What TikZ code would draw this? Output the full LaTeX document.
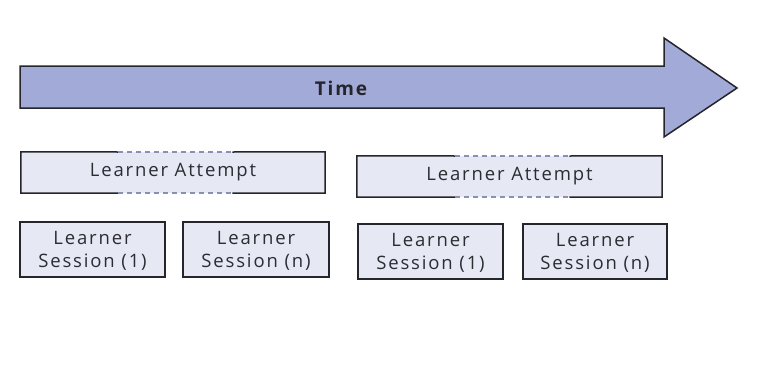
\documentclass[tikz,border=0pt]{standalone}
\usepackage{fontspec}
\setmainfont{Open Sans}[LetterSpace=10]
\definecolor{arrowfill}{HTML}{A2AAD8}
\definecolor{boxfill}{HTML}{E6E8F4}
\definecolor{edge}{HTML}{25252C}
\definecolor{txt}{HTML}{2C2C32}
\definecolor{dashc}{HTML}{8A90B4}
\tikzset{
  box/.style={fill=boxfill, draw=edge, line width=1.5pt, inner sep=0pt, font=\fontsize{18.5}{23}\selectfont, text=txt, align=center, text depth=0pt, minimum height=55pt},
  attbox/.style={fill=boxfill, draw=none, inner sep=0pt, font=\fontsize{18.5}{23}\selectfont, text=txt, minimum height=41pt},
  solidedge/.style={draw=edge, line width=1.5pt, line cap=rect},
  dashedge/.style={draw=dashc, line width=1.2pt, dashed, dash pattern=on 5pt off 4pt}
}
\begin{document}
\begin{tikzpicture}[x=1pt,y=-1pt]
\useasboundingbox (0,0) rectangle (773,364);
% time arrow
\draw[fill=arrowfill, draw=edge, line width=1.5pt, line join=miter]
  (20,66) -- (664,66) -- (664,38) -- (737,88) -- (664,137) -- (664,108) -- (20,108) -- cycle;
\node[font=\fontsize{19}{22}\selectfont\bfseries, text=edge] (time) at (341,88) {Time};

% attempt 1
\node[attbox, minimum width=304pt] (a1) at (173,172.5) {Learner Attempt};
\coordinate (a1d1) at (118,152);
\coordinate (a1d2) at (233,152);
\coordinate (a1d3) at (118,193);
\coordinate (a1d4) at (233,193);
\draw[solidedge] (a1d1) -- (a1.north west) -- (a1.south west) -- (a1d3);
\draw[solidedge] (a1d2) -- (a1.north east) -- (a1.south east) -- (a1d4);
\draw[dashedge] (a1d1) -- (a1d2);
\draw[dashedge] (a1d3) -- (a1d4);

% attempt 2
\node[attbox, minimum width=305pt] (a2) at (509.5,176.5) {Learner Attempt};
\coordinate (a2d1) at (455,156);
\coordinate (a2d2) at (570,156);
\coordinate (a2d3) at (455,197);
\coordinate (a2d4) at (570,197);
\draw[solidedge] (a2d1) -- (a2.north west) -- (a2.south west) -- (a2d3);
\draw[solidedge] (a2d2) -- (a2.north east) -- (a2.south east) -- (a2d4);
\draw[dashedge] (a2d1) -- (a2d2);
\draw[dashedge] (a2d3) -- (a2d4);

% sessions
\node[box, minimum width=145pt] (s11) at (92.5,249.5) {Learner\\Session (1)};
\node[box, minimum width=146pt] (s1n) at (256,249.5) {Learner\\Session (n)};
\node[box, minimum width=145pt] (s21) at (430.5,251.5) {Learner\\Session (1)};
\node[box, minimum width=144pt] (s2n) at (595,251.5) {Learner\\Session (n)};
\end{tikzpicture}
\end{document}
